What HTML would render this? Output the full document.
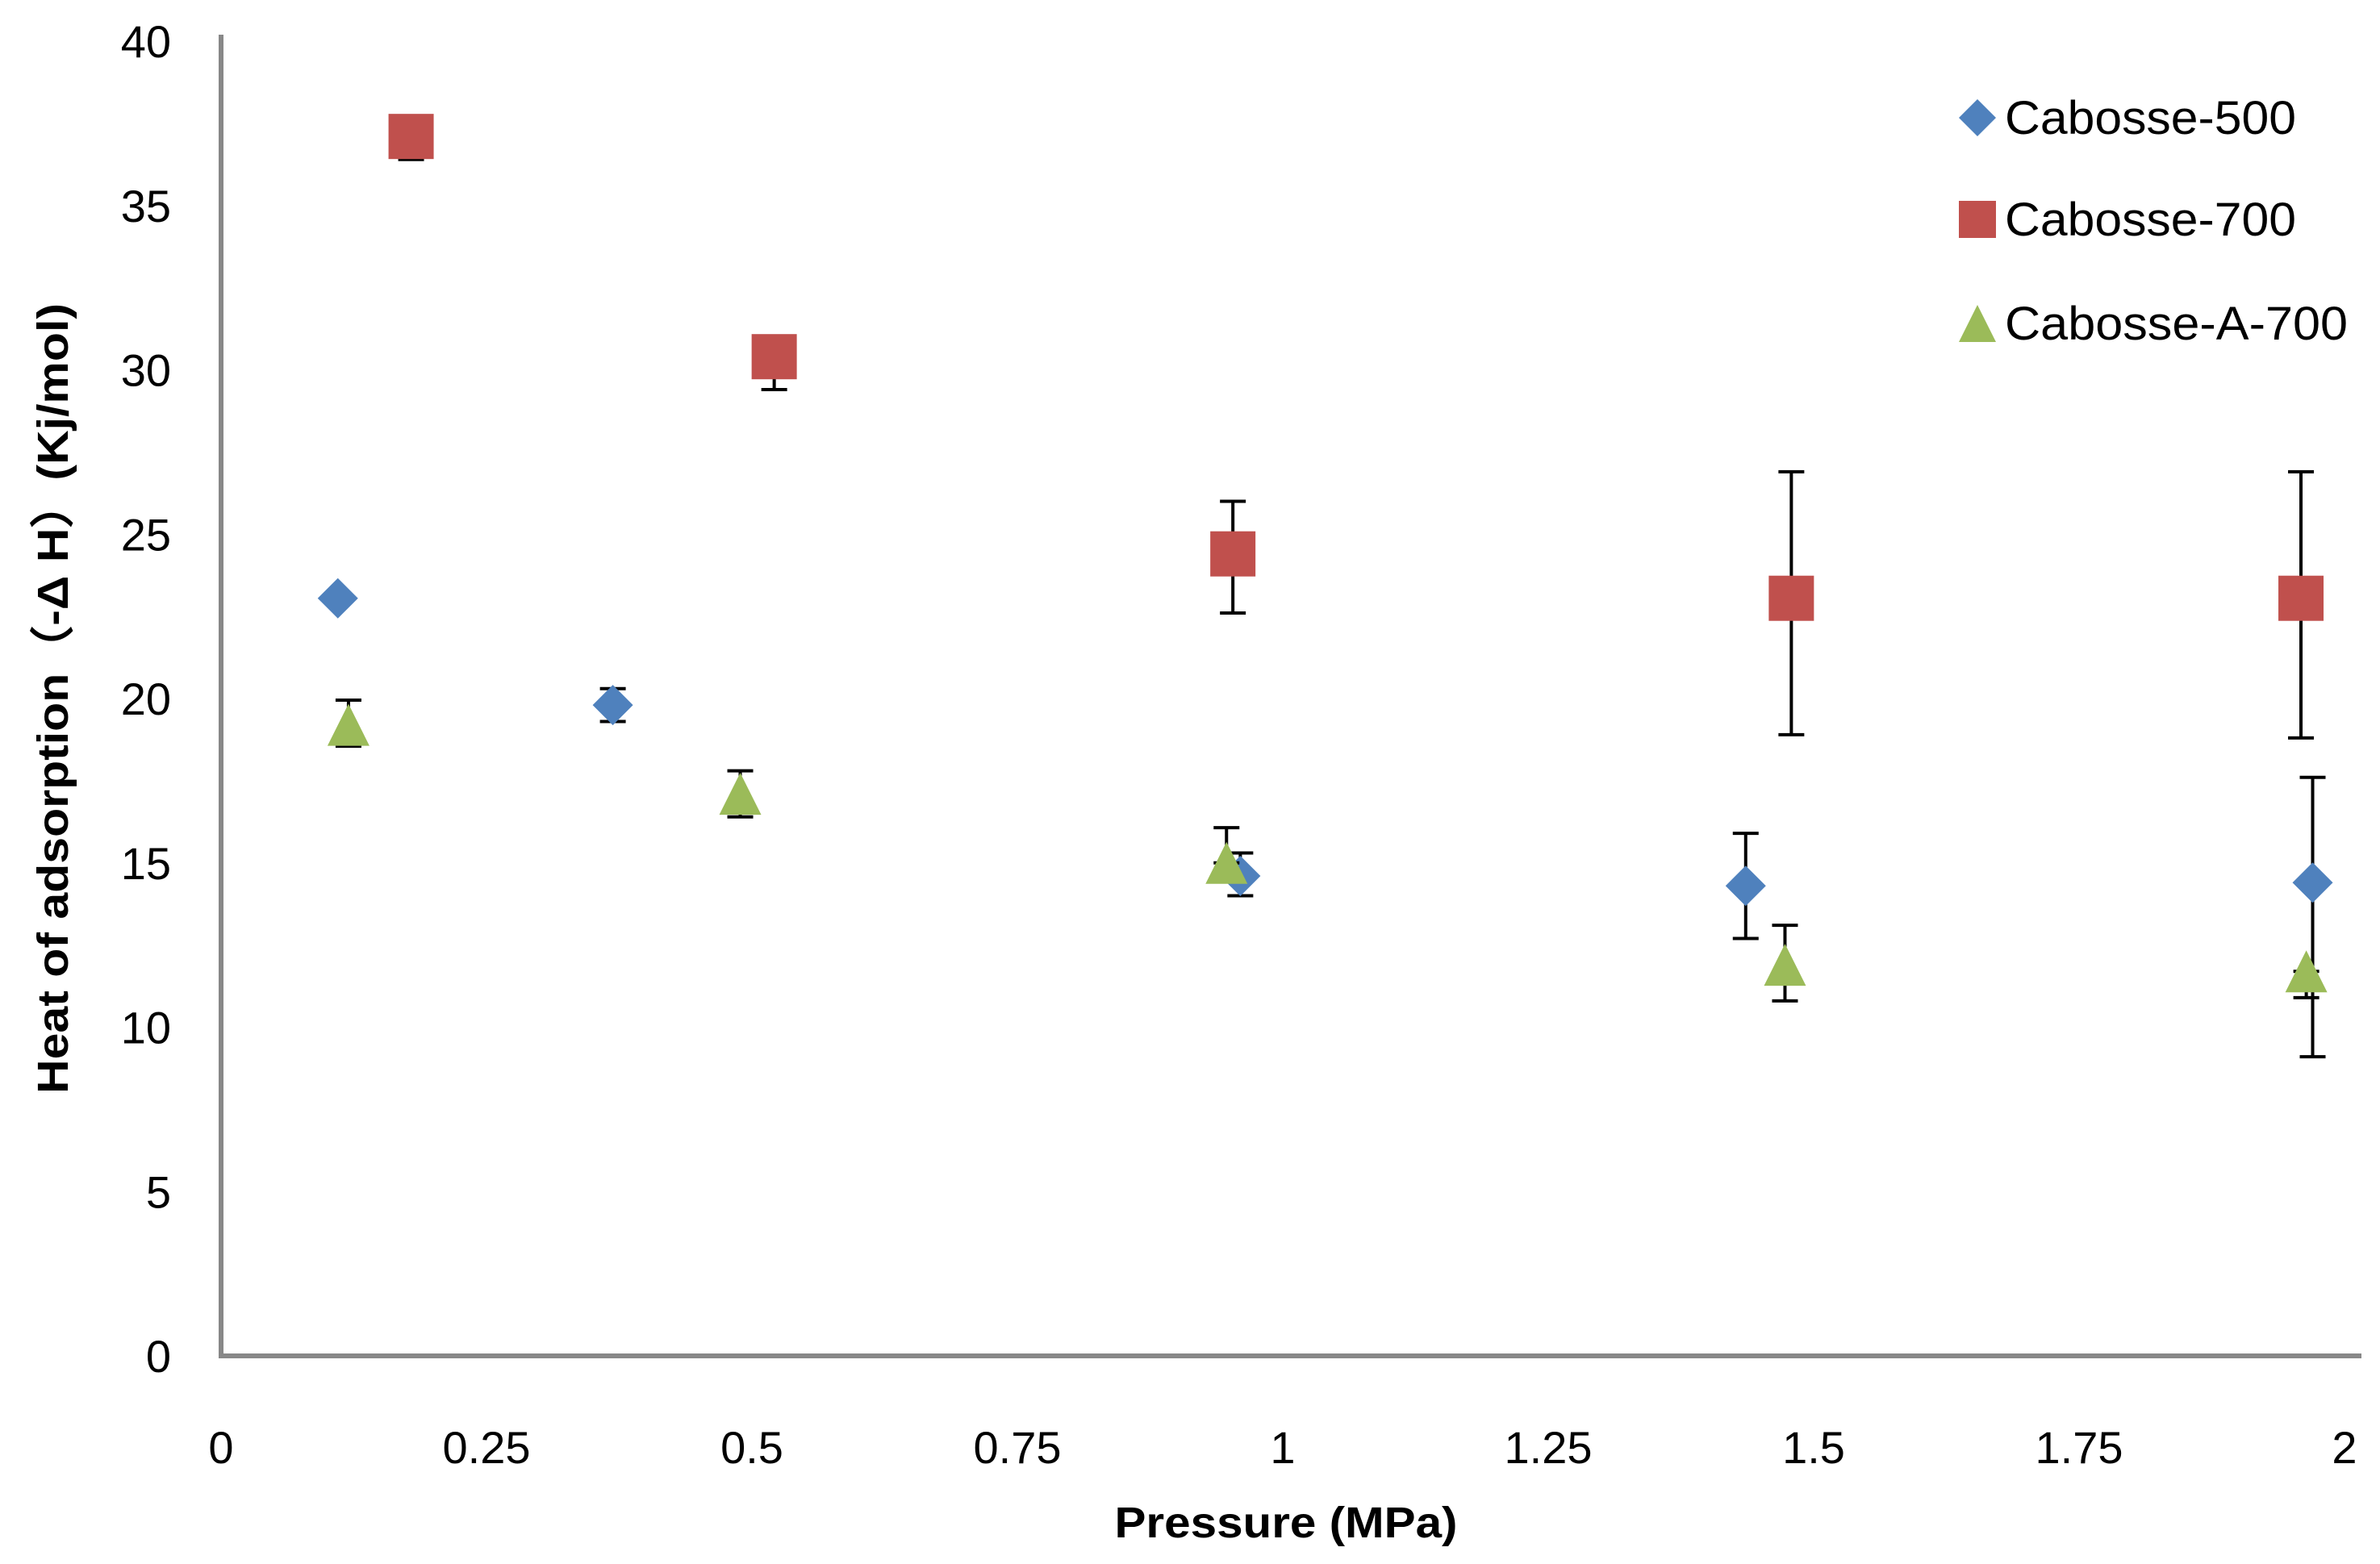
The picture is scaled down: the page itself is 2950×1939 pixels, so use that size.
<!DOCTYPE html>
<html><head><meta charset="utf-8"><style>
html,body{margin:0;padding:0;background:#fff;}
svg{display:block;}
text{font-family:"Liberation Sans",sans-serif;fill:#000;}
</style></head><body>
<svg id="chart" width="2950" height="1939" viewBox="0 0 2950 1939">
<g id="axes"></g>
<g id="series"></g>
<g id="legend"></g>
<text x="1594" y="1906" font-size="54" font-weight="bold" text-anchor="middle" textLength="425" lengthAdjust="spacingAndGlyphs">Pressure (MPa)</text>
<text transform="translate(84,866) rotate(-90)" font-size="54" font-weight="bold" text-anchor="middle" textLength="980" lengthAdjust="spacingAndGlyphs">Heat of adsorption（-Δ H）(Kj/mol)</text>
</svg>
<script>
const xTicks = [0, 0.25, 0.5, 0.75, 1, 1.25, 1.5, 1.75, 2];
const xTickLabels = ["0", "0.25", "0.5", "0.75", "1", "1.25", "1.5", "1.75", "2"];
const yTicks = [0, 5, 10, 15, 20, 25, 30, 35, 40];
const seriesNames = ["Cabosse-500", "Cabosse-700", "Cabosse-A-700"];
const c500X = [0.11, 0.369, 0.96, 1.436, 1.97];
const c500Y = [23.05, 19.8, 14.6, 14.3, 14.4];
const c500Lo = [23.05, 19.3, 14.0, 12.7, 9.1];
const c500Hi = [23.05, 20.3, 15.3, 15.9, 17.6];
const c700X = [0.179, 0.521, 0.953, 1.479, 1.959];
const c700Y = [37.1, 30.4, 24.4, 23.05, 23.05];
const c700Lo = [36.4, 29.4, 22.6, 18.9, 18.8];
const c700Hi = [37.1, 31.0, 26.0, 26.9, 26.9];
const cA700X = [0.12, 0.489, 0.947, 1.473, 1.964];
const cA700Y = [19.2, 17.1, 15.0, 11.9, 11.7];
const cA700Lo = [18.55, 16.4, 15.0, 10.8, 10.9];
const cA700Hi = [19.95, 17.8, 16.07, 13.1, 11.7];

const NS = "http://www.w3.org/2000/svg";
const X0 = 274, XS = 1316, Y0 = 1681, YS = 40.75;
function sx(v){ return X0 + v * XS; }
function sy(v){ return Y0 - v * YS; }
function mk(tag, attrs, parent){
  const e = document.createElementNS(NS, tag);
  for (const k in attrs) e.setAttribute(k, attrs[k]);
  parent.appendChild(e);
  return e;
}
const axes = document.getElementById('axes');
const yAxis = mk('line', {x1: X0, y1: 43, x2: X0, y2: Y0 + 3, stroke: '#888', 'stroke-width': 6}, axes);


const xAxis = mk('line', {x1: X0 - 3, y1: Y0, x2: 2927, y2: Y0, stroke: '#888', 'stroke-width': 6}, axes);


yTicks.forEach(function(v){
  const t = mk('text', {x: 212, y: sy(v) + 20, 'font-size': 56, 'text-anchor': 'end'}, axes);
  t.textContent = String(v);
  
  
});
xTicks.forEach(function(v, i){
  const t = mk('text', {x: sx(v), y: 1814, 'font-size': 56, 'text-anchor': 'middle'}, axes);
  t.textContent = xTickLabels[i];
  
  
});

const plot = document.getElementById('series');
function marker(shape, cx, cy, size, color, parent){
  let e;
  const h = size / 2;
  if (shape === 'diamond') {
    e = mk('polygon', {points: cx + ',' + (cy - h) + ' ' + (cx + h) + ',' + cy + ' ' + cx + ',' + (cy + h) + ' ' + (cx - h) + ',' + cy, fill: color}, parent);
  } else if (shape === 'square') {
    e = mk('rect', {x: cx - h, y: cy - h, width: size, height: size, fill: color}, parent);
  } else {
    e = mk('polygon', {points: cx + ',' + (cy - h) + ' ' + (cx + h) + ',' + (cy + h) + ' ' + (cx - h) + ',' + (cy + h), fill: color}, parent);
  }
  return e;
}
function drawSeries(xs, ys, lo, hi, shape, color, size, name){
  const g = mk('g', {}, plot);
  
  
  xs.forEach(function(x, i){
    const px = sx(x);
    const el = mk('path', {d: 'M' + px + ' ' + sy(lo[i]) + 'V' + sy(hi[i]) + 'M' + (px - 16) + ' ' + sy(lo[i]) + 'H' + (px + 16) + 'M' + (px - 16) + ' ' + sy(hi[i]) + 'H' + (px + 16), stroke: '#000', 'stroke-width': 4, fill: 'none'}, g);
    
    
  });
  xs.forEach(function(x, i){
    const m = marker(shape, sx(x), sy(ys[i]), size, color, g);
    
    
  });
}
drawSeries(c500X, c500Y, c500Lo, c500Hi, 'diamond', '#4F81BD', 50, 'cabosse-500');
drawSeries(c700X, c700Y, c700Lo, c700Hi, 'square', '#C0504D', 56, 'cabosse-700');
drawSeries(cA700X, cA700Y, cA700Lo, cA700Hi, 'triangle', '#9BBB59', 52, 'cabosse-a-700');

const legend = document.getElementById('legend');
const lShapes = ['diamond', 'square', 'triangle'];
const lColors = ['#4F81BD', '#C0504D', '#9BBB59'];
const lRows = [146, 272, 401];
const lWidths = [361, 361, 425];
seriesNames.forEach(function(n, i){
  const g = mk('g', {}, legend);
  
  
  marker(lShapes[i], 2451, lRows[i], 46, lColors[i], g);
  const t = mk('text', {x: 2485, y: lRows[i] + 20, 'font-size': 58, textLength: lWidths[i], lengthAdjust: 'spacingAndGlyphs'}, g);
  t.textContent = n;
});
</script>
</body></html>
